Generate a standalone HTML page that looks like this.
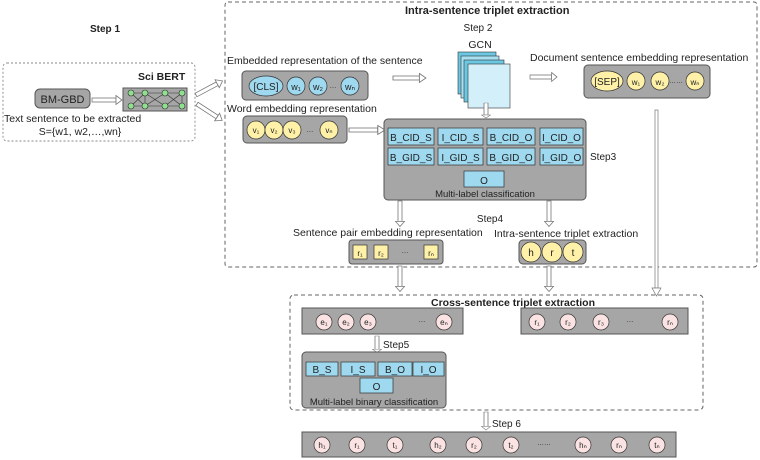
<!DOCTYPE html>
<html><head><meta charset="utf-8"><style>
body{margin:0;background:#fff}
svg{display:block}
text{font-family:"Liberation Sans",sans-serif;fill:#222}
</style></head><body>
<svg width="760" height="460" viewBox="0 0 760 460" xmlns="http://www.w3.org/2000/svg">
<defs>
<g id="ha"><rect x="0" y="-2" width="24" height="4" fill="#fff" stroke="#777" stroke-width="0.8"/><polygon points="24,-4.5 30,0 24,4.5" fill="#fff" stroke="#777" stroke-width="0.8"/></g>
</defs>
<!-- dashed boxes -->
<rect x="3" y="63" width="192" height="78" rx="4" fill="none" stroke="#888" stroke-dasharray="2,2" stroke-width="0.9"/>
<rect x="225" y="2" width="532" height="265" rx="3" fill="none" stroke="#666" stroke-dasharray="4,3" stroke-width="1"/>
<rect x="290" y="295" width="413" height="115" rx="4" fill="none" stroke="#666" stroke-dasharray="4,3" stroke-width="1"/>

<!-- step1 -->
<text x="90" y="32" font-size="10" font-weight="bold">Step 1</text>
<text x="138" y="80" font-size="10.5" font-weight="bold">Sci BERT</text>
<rect x="35" y="89" width="55" height="19" rx="5" fill="#a6a6a6" stroke="#555"/>
<text x="62.5" y="103" font-size="11" text-anchor="middle">BM-GBD</text>
<g transform="translate(92,100) scale(1,1)"><use href="#ha"/></g>
<rect x="123" y="88" width="64" height="23" fill="#a6a6a6" stroke="#555"/>
<g stroke="#333" stroke-width="0.6">
<line x1="131" y1="93" x2="145" y2="106"/><line x1="131" y1="106" x2="145" y2="93"/>
<line x1="145" y1="93" x2="165" y2="106"/><line x1="145" y1="106" x2="165" y2="93"/>
<line x1="165" y1="93" x2="182" y2="106"/><line x1="165" y1="106" x2="182" y2="93"/>
<line x1="131" y1="93" x2="182" y2="93"/><line x1="131" y1="106" x2="182" y2="106"/>
<line x1="145" y1="93" x2="145" y2="106"/><line x1="182" y1="93" x2="182" y2="106"/>
</g>
<g fill="#8fe08f" stroke="#333" stroke-width="0.6">
<circle cx="131" cy="93" r="3"/><circle cx="145" cy="93" r="3"/><circle cx="165" cy="93" r="3"/><circle cx="182" cy="93" r="3"/>
<circle cx="131" cy="106" r="3"/><circle cx="145" cy="106" r="3"/><circle cx="165" cy="106" r="3"/><circle cx="182" cy="106" r="3"/>
</g>
<text x="4" y="122" font-size="10.5">Text sentence to be extracted</text>
<text x="80" y="135" font-size="10.5" text-anchor="middle">S={w1, w2,…,wn}</text>
<g transform="translate(196,95) rotate(-28)"><use href="#ha"/></g>
<g transform="translate(197,104) rotate(33)"><use href="#ha"/></g>

<!-- intra -->
<text x="405" y="14" font-size="11" font-weight="bold">Intra-sentence triplet extraction</text>
<text x="478" y="31" font-size="10" text-anchor="middle">Step 2</text>
<text x="480" y="48" font-size="10.5" text-anchor="middle">GCN</text>
<rect x="458" y="52" width="38" height="42" fill="#6cc7e2" stroke="#333" stroke-width="0.6"/>
<rect x="461" y="56" width="38" height="42" fill="#a6e0f2" stroke="#333" stroke-width="0.6"/>
<rect x="464" y="60" width="40" height="42" fill="#6cc7e2" stroke="#333" stroke-width="0.6"/>
<rect x="468" y="64" width="42" height="44" fill="#d3effa" stroke="#333" stroke-width="0.6"/>

<text x="227" y="64" font-size="10.5">Embedded representation of the sentence</text>
<rect x="242" y="71" width="126" height="29" rx="4" fill="#a6a6a6" stroke="#555"/>
<ellipse cx="266" cy="86" rx="17" ry="10" fill="#9fd9ef" stroke="#333" stroke-width="0.7"/>
<text x="266" y="90" font-size="10" text-anchor="middle">[CLS]</text>
<circle cx="296" cy="86" r="9" fill="#9fd9ef" stroke="#333" stroke-width="0.7"/><text x="296" y="90" font-size="9" text-anchor="middle">w₁</text>
<circle cx="318" cy="86" r="9" fill="#9fd9ef" stroke="#333" stroke-width="0.7"/><text x="318" y="90" font-size="9" text-anchor="middle">w₂</text>
<text x="333" y="88" font-size="7" text-anchor="middle">…</text>
<circle cx="350" cy="86" r="9" fill="#9fd9ef" stroke="#333" stroke-width="0.7"/><text x="350" y="90" font-size="9" text-anchor="middle">wₙ</text>

<text x="227" y="112" font-size="10.5">Word embedding representation</text>
<rect x="243" y="116" width="104" height="27" rx="4" fill="#a6a6a6" stroke="#555"/>
<g fill="#fff2a8" stroke="#333" stroke-width="0.7">
<circle cx="256" cy="130" r="9"/><circle cx="274" cy="130" r="9"/><circle cx="292" cy="130" r="9"/><circle cx="329" cy="130" r="9"/></g>
<g font-size="8" text-anchor="middle"><text x="256" y="133">v₁</text><text x="274" y="133">v₂</text><text x="292" y="133">v₃</text><text x="329" y="133">vₙ</text></g>
<text x="310" y="132" font-size="7" text-anchor="middle">…</text>
<g transform="translate(349,130) scale(1.2,1)"><use href="#ha"/></g>
<g transform="translate(393,78) scale(1.1,1)"><use href="#ha"/></g>
<g transform="translate(530,77) scale(0.9,1)"><use href="#ha"/></g>

<text x="530" y="61" font-size="10.5">Document sentence embedding representation</text>
<rect x="584" y="65" width="126" height="33" rx="4" fill="#a6a6a6" stroke="#555"/>
<ellipse cx="607" cy="81" rx="16" ry="10" fill="#fff2a8" stroke="#333" stroke-width="0.7"/>
<text x="607" y="85" font-size="10" text-anchor="middle">[SEP]</text>
<circle cx="636" cy="81" r="9" fill="#fff2a8" stroke="#333" stroke-width="0.7"/><text x="636" y="85" font-size="8" text-anchor="middle">w₁</text>
<circle cx="660" cy="81" r="9" fill="#fff2a8" stroke="#333" stroke-width="0.7"/><text x="660" y="85" font-size="8" text-anchor="middle">w₂</text>
<text x="676" y="83" font-size="7" text-anchor="middle">……</text>
<circle cx="695" cy="81" r="9" fill="#fff2a8" stroke="#333" stroke-width="0.7"/><text x="695" y="85" font-size="8" text-anchor="middle">wₙ</text>

<!-- long arrow -->
<rect x="655" y="110" width="3" height="178" fill="#fff" stroke="#777" stroke-width="0.7"/>
<polygon points="652,288 661,288 656.5,296" fill="#fff" stroke="#777" stroke-width="0.7"/>

<!-- GCN down -->
<g transform="translate(486,103) rotate(90) scale(0.5,1)"><use href="#ha"/></g>

<!-- multilabel -->
<rect x="384" y="119" width="202" height="81" rx="4" fill="#a6a6a6" stroke="#555"/>
<g fill="#9fd9ef" stroke="#333" stroke-width="0.7">
<rect x="388" y="128" width="46" height="17"/><rect x="438" y="128" width="45" height="17"/><rect x="487" y="128" width="48" height="17"/><rect x="540" y="128" width="43" height="17"/>
<rect x="388" y="148" width="46" height="17"/><rect x="438" y="148" width="45" height="17"/><rect x="487" y="148" width="48" height="17"/><rect x="540" y="148" width="43" height="17"/>
<rect x="464" y="171" width="40" height="16"/></g>
<g font-size="10" text-anchor="middle">
<text x="411" y="141">B_CID_S</text><text x="460.5" y="141">I_CID_S</text><text x="511" y="141">B_CID_O</text><text x="561.5" y="141">I_CID_O</text>
<text x="411" y="161">B_GID_S</text><text x="460.5" y="161">I_GID_S</text><text x="511" y="161">B_GID_O</text><text x="561.5" y="161">I_GID_O</text>
<text x="484" y="184">O</text><text x="485" y="197" font-size="9.5">Multi-label  classification</text></g>
<text x="590" y="160" font-size="10">Step3</text>

<g transform="translate(400,201) rotate(90) scale(0.85,1)"><use href="#ha"/></g>
<g transform="translate(549,201) rotate(90) scale(0.85,1)"><use href="#ha"/></g>
<text x="490" y="222" font-size="10" text-anchor="middle">Step4</text>
<text x="293" y="236" font-size="10.5">Sentence pair embedding representation</text>
<text x="494" y="237" font-size="10.5">Intra-sentence triplet extraction</text>
<rect x="349" y="240" width="94" height="24" rx="3" fill="#a6a6a6" stroke="#555"/>
<g fill="#fff2a8" stroke="#333" stroke-width="0.7"><rect x="353" y="245" width="14" height="14"/><rect x="374" y="245" width="14" height="14"/><rect x="424" y="245" width="14" height="14"/></g>
<g font-size="8" text-anchor="middle"><text x="360" y="256">r₁</text><text x="381" y="256">r₂</text><text x="431" y="256">rₙ</text></g>
<text x="405" y="253" font-size="7" text-anchor="middle">…</text>
<rect x="519" y="240" width="67" height="24" rx="4" fill="#a6a6a6" stroke="#555"/>
<g fill="#fff2a8" stroke="#333" stroke-width="0.7"><circle cx="531" cy="252" r="10"/><circle cx="552" cy="252" r="10"/><circle cx="573" cy="252" r="10"/></g>
<g font-size="10" text-anchor="middle"><text x="531" y="256">h</text><text x="552" y="256">r</text><text x="573" y="256">t</text></g>

<g transform="translate(400,266) rotate(90) scale(0.85,1)"><use href="#ha"/></g>
<g transform="translate(549,266) rotate(90) scale(0.85,1)"><use href="#ha"/></g>

<!-- cross -->
<text x="513" y="306" font-size="10.5" font-weight="bold" text-anchor="middle">Cross-sentence triplet extraction</text>
<rect x="302" y="308" width="161" height="26" fill="#a6a6a6" stroke="#555"/>
<rect x="521" y="308" width="167" height="26" fill="#a6a6a6" stroke="#555"/>
<g fill="#fbe3e3" stroke="#333" stroke-width="0.7">
<circle cx="324" cy="322" r="8"/><circle cx="346" cy="322" r="8"/><circle cx="368" cy="322" r="8"/><circle cx="444" cy="322" r="8"/>
<circle cx="537" cy="322" r="8"/><circle cx="568" cy="322" r="8"/><circle cx="601" cy="322" r="8"/><circle cx="670" cy="322" r="8"/>
<circle cx="322" cy="445" r="8"/><circle cx="357" cy="445" r="8"/><circle cx="395" cy="445" r="8"/>
<circle cx="438" cy="445" r="8"/><circle cx="474" cy="445" r="8"/><circle cx="511" cy="445" r="8"/>
<circle cx="583" cy="445" r="8"/><circle cx="619" cy="445" r="8"/><circle cx="657" cy="445" r="8"/></g>
<g font-size="8" text-anchor="middle">
<text x="324" y="325">e₁</text><text x="346" y="325">e₂</text><text x="368" y="325">e₃</text><text x="444" y="325">eₙ</text>
<text x="537" y="325">r₁</text><text x="568" y="325">r₂</text><text x="601" y="325">r₃</text><text x="670" y="325">rₙ</text>
<text x="322" y="448">h₁</text><text x="357" y="448">r₁</text><text x="395" y="448">t₁</text>
<text x="438" y="448">h₂</text><text x="474" y="448">r₂</text><text x="511" y="448">t₂</text>
<text x="583" y="448">hₙ</text><text x="619" y="448">rₙ</text><text x="657" y="448">tₙ</text></g>
<g font-size="7" text-anchor="middle" fill="#555"><text x="422" y="322">…</text><text x="630" y="322">…</text><text x="544" y="445">……</text></g>

<g transform="translate(377,336) rotate(90) scale(0.55,1)"><use href="#ha"/></g>
<text x="383" y="348" font-size="10">Step5</text>
<rect x="302" y="352" width="144" height="56" rx="4" fill="#a6a6a6" stroke="#555"/>
<g fill="#9fd9ef" stroke="#333" stroke-width="0.7">
<rect x="306" y="362" width="32" height="14"/><rect x="341" y="362" width="34" height="14"/><rect x="378" y="362" width="34" height="14"/><rect x="413" y="362" width="31" height="14"/><rect x="360" y="378" width="33" height="15"/></g>
<g font-size="10" text-anchor="middle"><text x="322" y="373">B_S</text><text x="358" y="373">I_S</text><text x="395" y="373">B_O</text><text x="428.5" y="373">I_O</text><text x="376.5" y="390">O</text></g>
<text x="374" y="405" font-size="9.5" text-anchor="middle">Multi-label binary classification</text>

<g transform="translate(486,412) rotate(90) scale(0.6,1)"><use href="#ha"/></g>
<text x="492" y="427" font-size="10">Step 6</text>
<rect x="302" y="432" width="374" height="25" fill="#a6a6a6" stroke="#555"/>
<g fill="#fbe3e3" stroke="#333" stroke-width="0.7">
<circle cx="322" cy="445" r="8"/><circle cx="357" cy="445" r="8"/><circle cx="395" cy="445" r="8"/>
<circle cx="438" cy="445" r="8"/><circle cx="474" cy="445" r="8"/><circle cx="511" cy="445" r="8"/>
<circle cx="583" cy="445" r="8"/><circle cx="619" cy="445" r="8"/><circle cx="657" cy="445" r="8"/></g>
<g font-size="8" text-anchor="middle">
<text x="322" y="448">h₁</text><text x="357" y="448">r₁</text><text x="395" y="448">t₁</text>
<text x="438" y="448">h₂</text><text x="474" y="448">r₂</text><text x="511" y="448">t₂</text>
<text x="583" y="448">hₙ</text><text x="619" y="448">rₙ</text><text x="657" y="448">tₙ</text></g>
<text x="544" y="445" font-size="7" text-anchor="middle" fill="#555">……</text>
</svg>
</body></html>
